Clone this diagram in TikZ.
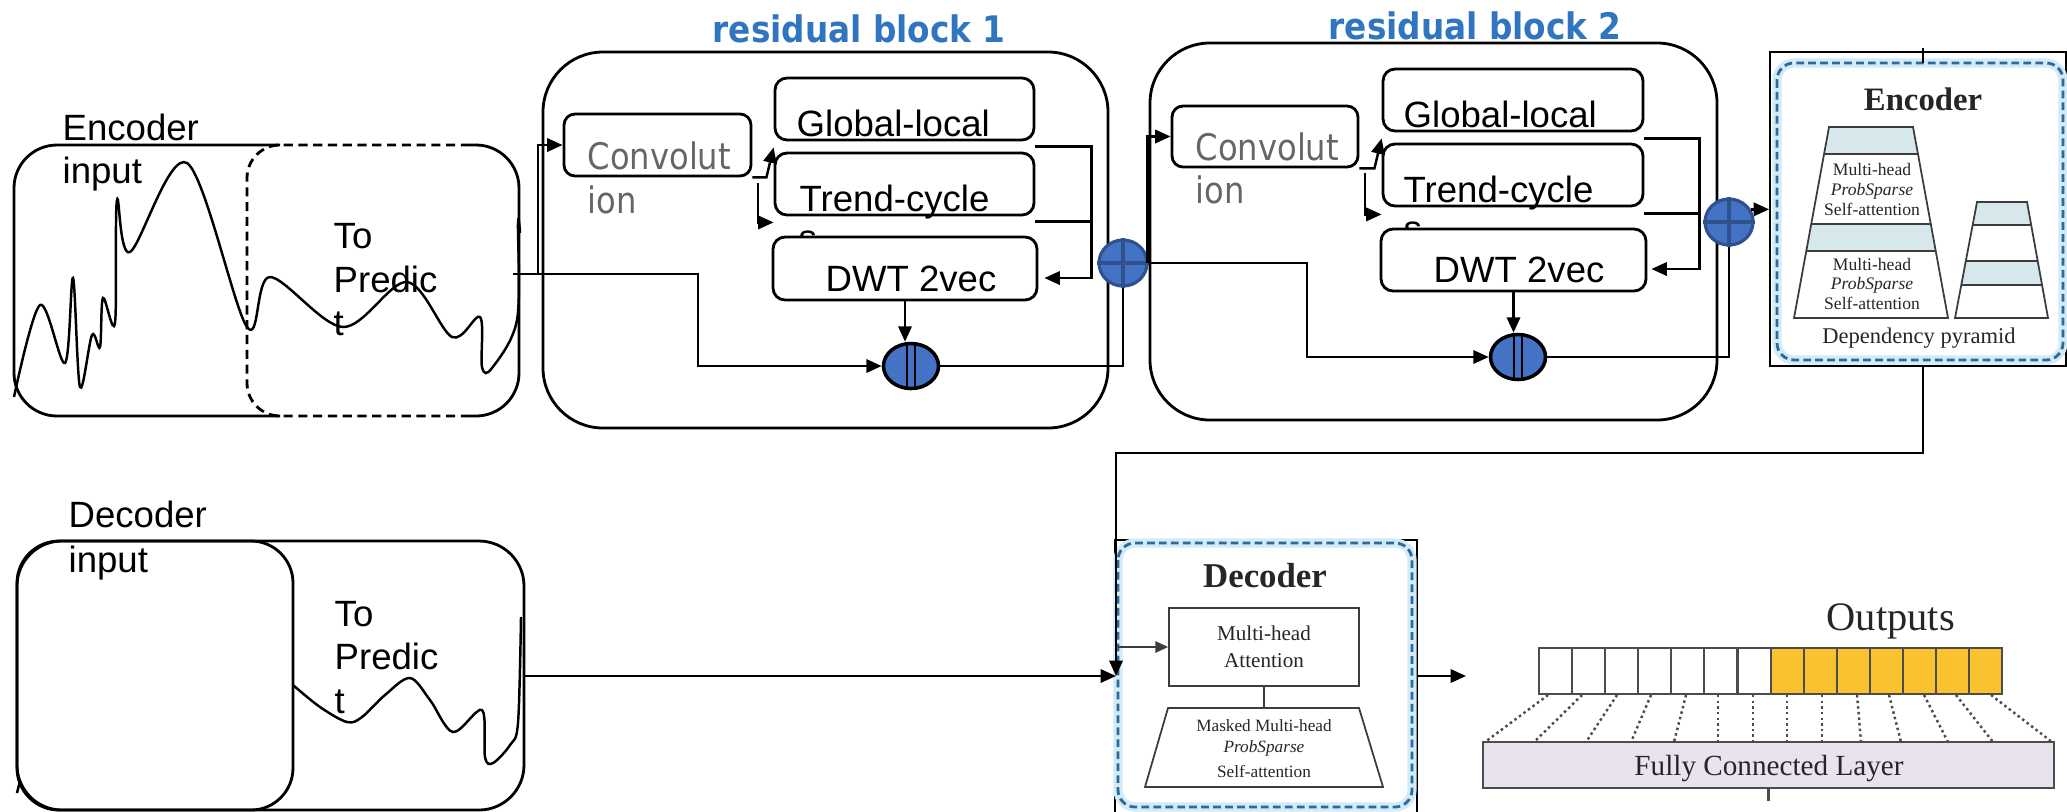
\documentclass[tikz,border=0pt]{standalone}
\usepackage{fontspec}
\usepackage{graphicx}
\setmainfont{Liberation Sans}
\newfontfamily\serf{Liberation Serif}
\newfontfamily\dvs{DejaVu Sans}
\usetikzlibrary{arrows.meta,shapes.geometric,fit,calc}
\definecolor{tblue}{RGB}{47,117,192}
\definecolor{cfill}{RGB}{68,114,196}
\definecolor{cdark}{RGB}{47,82,143}
\definecolor{dashblue}{RGB}{45,105,155}
\definecolor{halo}{RGB}{210,235,247}
\definecolor{band}{RGB}{214,232,236}
\definecolor{yel}{RGB}{249,194,46}
\definecolor{lav}{RGB}{233,226,239}
\definecolor{imgline}{RGB}{60,60,60}
\begin{document}
\begin{tikzpicture}[x=0.01cm,y=-0.01cm,
  ln/.style={line width=0.7pt},
  arr/.style={ln,-{Triangle[length=4.4pt,width=3.8pt]}},
  rbox/.style={draw,line width=0.8pt,fill=white,inner sep=0pt,rounded corners=#1},
  rbox/.default=0.11cm,
  big/.style={draw,line width=0.8pt,inner sep=0pt,rounded corners=0.6cm},
  lbl/.style={inner sep=0pt,anchor=base west,font=\fontsize{10.4pt}{12pt}\selectfont},
  convt/.style={inner sep=0pt,anchor=base west,text=black!60,font=\fontsize{10.4pt}{12pt}\selectfont\dvs},
  ttl/.style={inner sep=0pt,anchor=base west,text=tblue,font=\fontsize{10.4pt}{12pt}\selectfont\dvs\bfseries},
  catc/.style={ellipse,draw,line width=1pt,fill=cfill,inner sep=0pt,minimum width=0.55cm,minimum height=0.45cm},
  sumc/.style={ellipse,draw=cdark,line width=0.9pt,fill=cfill,inner sep=0pt,minimum width=0.48cm,minimum height=0.46cm},
  imgt/.style={inner sep=0pt,anchor=base,text=black!85},
  dashb/.style={draw=dashblue,line width=0.8pt,dash pattern=on 2.2pt off 1.2pt,rounded corners=0.17cm},
  haloline/.style={draw=halo,line width=2.6pt,rounded corners=0.17cm},
  thin/.style={draw=imgline,line width=0.5pt},
]
\fill[white] (0,0) rectangle (2067,811);
\useasboundingbox (0,0) rectangle (2067,811);

% ---------------- encoder input ----------------
\node[inner sep=0pt,fit={(14,145)(519,416)}] (encin) {};
\draw[line width=0.8pt,rounded corners=0.43cm] (280,145) -- (14,145) -- (14,416) -- (280,416);
\draw[line width=0.8pt,rounded corners=0.43cm] (470,145) -- (519,145) -- (519,416) -- (470,416);
\draw[line width=0.8pt,dash pattern=on 2.6pt off 1.6pt,rounded corners=0.33cm] (470,145) -- (247,145) -- (247,416) -- (470,416);
\node[lbl] (ei1) at (62,140) {Encoder};
\node[lbl] (ei2) at (62,183) {input};
\node[lbl] (ep1) at (333,248) {To};
\node[lbl] (ep2) at (333,292) {Predic};
\node[lbl] (ep3) at (333,335) {t};
\draw[ln] plot[smooth,tension=0.55] coordinates {(14,397) (40,305) (65,363) (73,278) (80,387) (92,335) (100,347) (103,298) (115,323) (117,200) (130,252) (187,163) (247,327) (270,277) (343,327) (407,282) (452,337) (480,317) (482,367) (492,368) (517,320) (518,223) (520,233)};
\coordinate (encout) at (513,274);

% ---------------- residual block 1 ----------------
\node[big,fit={(543,52)(1108,428)}] (blk1) {};
\node[ttl] (t1) at (712,42) {\scalebox{0.895}[1]{residual block 1}};
\node[rbox,fit={(564,114)(751,176)}] (conv1) {};
\node[convt] (c1a) at (587,169) {\scalebox{0.88}[1]{Convolut}};
\node[convt] (c1b) at (587,213) {\scalebox{0.88}[1]{ion}};
\node[rbox=0.12cm,fit={(775,78)(1034,140)}] (gl1) {};
\node[lbl] (gl1t) at (796,136) {Global-local};
\node[rbox=0.12cm,fit={(775,153)(1034,215)}] (tc1) {};
\node[lbl] (tc1t) at (799,211) {Trend-cycle};
\node[lbl] (tc1s) at (798,250) {s};
\node[rbox=0.12cm,fit={(773,237)(1037,300)}] (dwt1) {};
\node[lbl] (dwt1t) at (825,291) {DWT 2vec};
\node[catc] (cat1) at (911,366) {};
\draw[line width=0.8pt] ($(cat1.center)+(-4,-22)$) -- ($(cat1.center)+(-4,22)$);
\draw[line width=0.8pt] ($(cat1.center)+(4,-22)$) -- ($(cat1.center)+(4,22)$);
\node[sumc] (sum1) at (1123,263) {};
\draw[cdark,line width=0.9pt] (sum1.north) -- (sum1.south) (sum1.west) -- (sum1.east);

\coordinate (j1) at (698,366);
\draw[arr] (encout) -| (j1) -- (cat1.west);
\coordinate (b1) at (538,274);
\draw[arr] (b1) |- (conv1.west);
\draw[arr] (conv1.south east) -- ++(14,0) -- ($(gl1.south west)+(0,6)$);
\coordinate (v1) at (758,183);
\draw[arr] (v1) |- ($(tc1.south west)+(0,6)$);
\coordinate (dwt1in) at ($(dwt1.east)+(6,9.5)$);
\draw[arr] ($(gl1.south east)+(0,5)$) -- ++(56,0) |- (dwt1in);
\draw[ln] ($(tc1.south east)+(0,5)$) -- ++(56,0);
\draw[arr] (dwt1.south) -- (dwt1.south |- cat1.north);
\draw[ln] (cat1.east) -| (sum1.south);

% ---------------- residual block 2 ----------------
\node[big,fit={(1150,43)(1717,420)}] (blk2) {};
\node[ttl] (t2) at (1328,39) {\scalebox{0.895}[1]{residual block 2}};
\node[rbox,fit={(1172,106)(1358,167)}] (conv2) {};
\node[convt] (c2a) at (1195,160) {\scalebox{0.88}[1]{Convolut}};
\node[convt] (c2b) at (1195,203) {\scalebox{0.88}[1]{ion}};
\node[rbox=0.12cm,fit={(1383,69)(1643,131)}] (gl2) {};
\node[lbl] (gl2t) at (1403,127) {Global-local};
\node[rbox=0.12cm,fit={(1383,144)(1643,206)}] (tc2) {};
\node[lbl] (tc2t) at (1403,202) {Trend-cycle};
\node[lbl] (tc2s) at (1403,241) {s};
\node[rbox=0.12cm,fit={(1381,229)(1646,291)}] (dwt2) {};
\node[lbl] (dwt2t) at (1433,282) {DWT 2vec};
\node[catc] (cat2) at (1518,357) {};
\draw[line width=0.8pt] ($(cat2.center)+(-4,-22)$) -- ($(cat2.center)+(-4,22)$);
\draw[line width=0.8pt] ($(cat2.center)+(4,-22)$) -- ($(cat2.center)+(4,22)$);
\node[sumc] (sum2) at (1729,222) {};
\draw[cdark,line width=0.9pt] (sum2.north) -- (sum2.south) (sum2.west) -- (sum2.east);

\coordinate (j2) at (1307,357);
\draw[arr] (sum1.east) -| (j2) -- (cat2.west);
\draw[arr] ($(sum1.east)+(-1,0)$) |- (conv2.west);
\draw[arr] (conv2.south east) -- ++(15,0) -- ($(gl2.south west)+(0,6)$);
\coordinate (v2) at (1365,173);
\draw[arr] (v2) |- ($(tc2.south west)+(0,7)$);
\coordinate (dwt2in) at ($(dwt2.east)+(4,9)$);
\draw[arr] ($(gl2.south east)+(0,6)$) -- ++(55,0) |- (dwt2in);
\draw[ln] ($(tc2.south east)+(0,6)$) -- ++(55,0);
\draw[arr] (dwt2.south) -- (dwt2.south |- cat2.north);
\draw[ln] (cat2.east) -| (sum2.south);

% ---------------- encoder image ----------------
\node[draw,line width=0.5pt,fill=white,inner sep=0pt,fit={(1770,52)(2066,366)}] (encimg) {};
\draw[arr] (sum2.30) -- (encimg.west |- sum2.30);
\draw[haloline] (1777,63) rectangle (2063,360);
\draw[dashb] (1777,63) rectangle (2063,360);
\draw[line width=0.6pt] (1923,48) -- (1923,63);
\node[imgt,font=\serf\bfseries\fontsize{9.3pt}{11pt}\selectfont] (enct) at (1923,110) {Encoder};
\begin{scope}
\clip (1829,127) -- (1913,127) -- (1948,318) -- (1794,318) -- cycle;
\fill[band] (1780,127) rectangle (1960,154);
\fill[band] (1780,224) rectangle (1960,251);
\draw[thin] (1780,154) -- (1960,154) (1780,224) -- (1960,224) (1780,251) -- (1960,251);
\end{scope}
\draw[thin] (1829,127) -- (1913,127) -- (1948,318) -- (1794,318) -- cycle;
\begin{scope}
\clip (1977,202) -- (2027,202) -- (2048,318) -- (1955,318) -- cycle;
\fill[band] (1950,202) rectangle (2060,225);
\fill[band] (1950,261) rectangle (2060,285);
\draw[thin] (1950,225) -- (2060,225) (1950,261) -- (2060,261) (1950,285) -- (2060,285);
\end{scope}
\draw[thin] (1977,202) -- (2027,202) -- (2048,318) -- (1955,318) -- cycle;
\node[imgt,font=\serf\fontsize{5pt}{6pt}\selectfont] (ea1) at (1872,175) {Multi-head};
\node[imgt,font=\serf\itshape\fontsize{5pt}{6pt}\selectfont] (ea2) at (1872,195) {ProbSparse};
\node[imgt,font=\serf\fontsize{5pt}{6pt}\selectfont] (ea3) at (1872,215) {Self-attention};
\node[imgt,font=\serf\fontsize{5pt}{6pt}\selectfont] (eb1) at (1872,270) {Multi-head};
\node[imgt,font=\serf\itshape\fontsize{5pt}{6pt}\selectfont] (eb2) at (1872,289) {ProbSparse};
\node[imgt,font=\serf\fontsize{5pt}{6pt}\selectfont] (eb3) at (1872,309) {Self-attention};
\node[imgt,font=\serf\fontsize{6.4pt}{8pt}\selectfont] (dp) at (1919,343) {Dependency pyramid};

% ---------------- decoder input ----------------
\node[draw,line width=0.8pt,rounded corners=0.45cm,inner sep=0pt,fit={(17,541)(524,810)}] (decbox) {};
\node[draw,line width=0.8pt,rounded corners=0.42cm,inner sep=0pt,fit={(17,541)(293,810)}] (decleft) {};
\node[lbl] (di1) at (68,527) {Decoder};
\node[lbl] (di2) at (68,572) {input};
\node[lbl] (dp1) at (334,626) {To};
\node[lbl] (dp2) at (334,669) {Predic};
\node[lbl] (dp3) at (334,713) {t};
\draw[ln] plot[smooth,tension=0.55] coordinates {(293,685) (320,707) (347,722) (362,717) (385,695) (410,678) (430,700) (453,732) (482,710) (485,757) (493,763) (510,745) (518,723) (521,617)};
\draw[ln] (17,793) -- (20,781);

% ---------------- decoder image ----------------
\node[draw,line width=0.5pt,fill=white,inner sep=0pt,fit={(1115,540)(1417,830)}] (decimg) {};
\draw[haloline] (1118,543) rectangle (1412,807);
\draw[dashb] (1118,543) rectangle (1412,807);
\node[imgt,font=\serf\bfseries\fontsize{9.9pt}{12pt}\selectfont] (dect) at (1265,587) {Decoder};
\node[thin,inner sep=0pt,fit={(1169,608)(1359,686)}] (mha) {};
\node[imgt,font=\serf\fontsize{6pt}{7pt}\selectfont] (m1) at (1264,640) {Multi-head};
\node[imgt,font=\serf\fontsize{6pt}{7pt}\selectfont] (m2) at (1264,667) {Attention};
\coordinate (trtop) at (1264,708);
\draw[thin] (mha.south) -- (trtop);
\draw[thin] (1168,708) -- (1359,708) -- (1383,787) -- (1145,787) -- cycle;
\node[imgt,font=\serf\fontsize{4.9pt}{6pt}\selectfont] (mm1) at (1264,731) {Masked Multi-head};
\node[imgt,font=\serf\itshape\fontsize{4.9pt}{6pt}\selectfont] (mm2) at (1264,752) {ProbSparse};
\node[imgt,font=\serf\fontsize{4.9pt}{6pt}\selectfont] (mm3) at (1264,777) {Self-attention};
\coordinate (gin) at (1118,647);
\draw[thin,-{Triangle[length=3.6pt,width=3.2pt]}] (gin) -- (mha.west |- gin);

\coordinate (encbot) at (1923,366);
\coordinate (j3) at (1116,453);
\coordinate (decin) at (1116,676);
\draw[arr] (encbot) |- (j3) -- (decin);
\draw[arr] (decbox.east |- decin) -- (decin);
\coordinate (outin) at (1466,676);
\draw[arr] (decimg.east |- decin) -- (outin);

% ---------------- outputs image ----------------
\node[inner sep=0pt,anchor=base west,text=black!85,font=\serf\fontsize{11.5pt}{13pt}\selectfont] (outt) at (1826,630) {Outputs};
\foreach \t/\b in {1548/1485,1582/1534,1617/1586,1651/1631,1686/1674,1718/1718,1753/1753,1787/1787,1822/1822,1857/1861,1889/1901,1924/1948,1956/1993,1991/2052}
  \draw[black!70,line width=0.7pt,dash pattern=on 0.7pt off 0.9pt] (\t,695) -- (\b,742);
\foreach \i in {0,...,13}{
  \pgfmathsetmacro\xa{1538+\i*33.07}
  \ifnum\i<7
    \node[draw=black!70,fill=white,line width=0.6pt,minimum width=0.3307cm,minimum height=0.46cm,inner sep=0pt,anchor=north west] (cell\i) at (\xa,647) {};
  \else
    \node[draw=black!70,fill=yel,line width=0.6pt,minimum width=0.3307cm,minimum height=0.46cm,inner sep=0pt,anchor=north west] (cell\i) at (\xa,647) {};
  \fi
}
\node[draw=black!70,fill=lav,line width=0.6pt,inner sep=0pt,fit={(1483,742)(2054,788)}] (fc) {};
\node[imgt,font=\serf\fontsize{8.3pt}{10pt}\selectfont] (fct) at (1769,775) {Fully Connected Layer};
\draw[black!70,line width=0.6pt] (fc.south) -- ++(0,12);
\end{tikzpicture}
\end{document}
